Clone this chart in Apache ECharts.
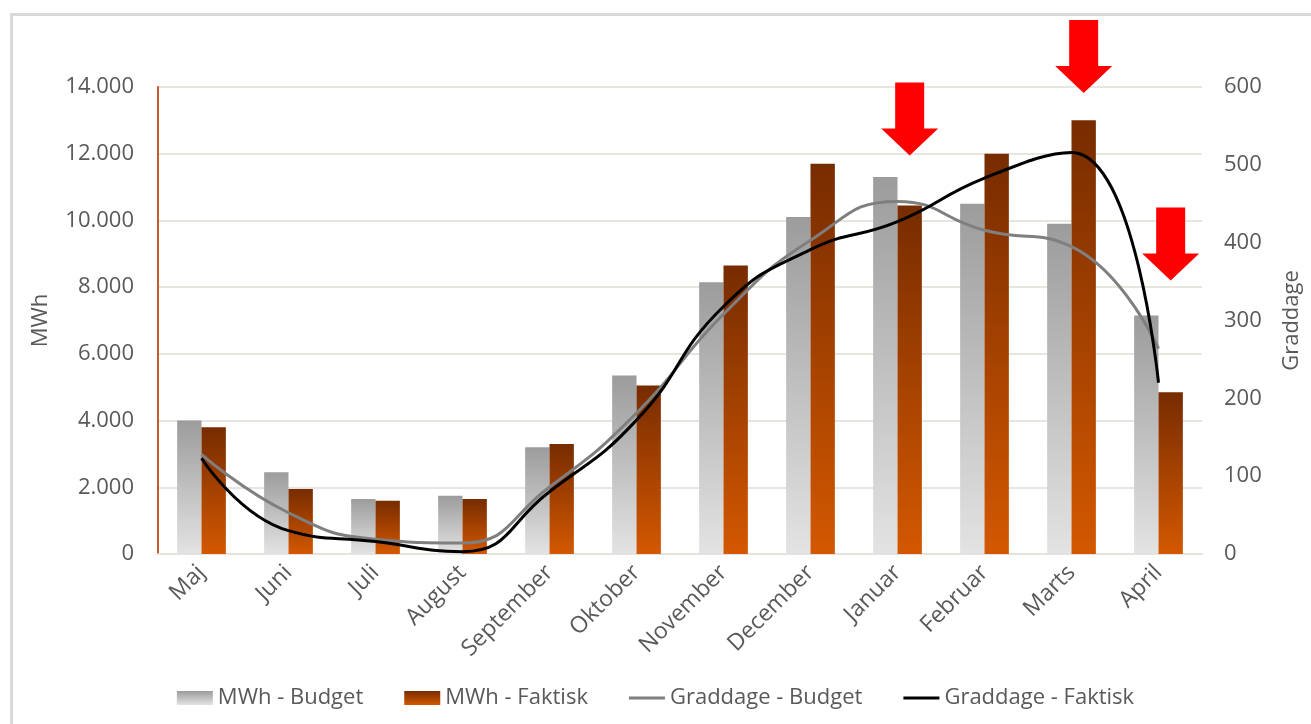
<!DOCTYPE html>
<html>
<head>
<meta charset="utf-8">
<script src="https://cdn.jsdelivr.net/npm/echarts@6/dist/echarts.min.js"></script>
<style>
  html, body { margin: 0; padding: 0; background: #fff; overflow: hidden; }
  .frame {
    position: absolute; left: 10px; top: 13px;
    width: 1400px; height: 800px;
    border: 3px solid #d9d9d9;
  }
  #chart { position: absolute; left: 0; top: 0; width: 1311px; height: 724px; }
</style>
</head>
<body>
<div class="frame"></div>
<div id="chart"></div>
<script>
// data
const months = ['Maj', 'Juni', 'Juli', 'August', 'September', 'Oktober', 'November', 'December', 'Januar', 'Februar', 'Marts', 'April']
const mwhBudget = [4000, 2450, 1650, 1750, 3200, 5350, 8150, 10100, 11300, 10500, 9900, 7150]
const mwhFaktisk = [3800, 1950, 1600, 1650, 3300, 5050, 8650, 11700, 10450, 12000, 13000, 4850]
const graddageBudget = [128, 53, 19, 14, 86, 181, 308, 403, 453, 416, 395, 264]
const graddageFaktisk = [123, 30, 16, 3, 80, 172, 318, 391, 427, 483, 516, 220]

// red arrows: which month and the MWh value the arrow tip points at
const arrowMonths = ['Januar', 'Marts', 'April']
const arrowTips = [11950, 13820, 8200]

const chart = echarts.init(document.getElementById('chart'))

const fmtDk = v => String(v).replace(/\B(?=(\d{3})+(?!\d))/g, '.')

const greyGrad = new echarts.graphic.LinearGradient(0, 0, 0, 1, [
  { offset: 0, color: '#9c9c9c' },
  { offset: 1, color: '#e3e3e3' }
])
const brownGrad = new echarts.graphic.LinearGradient(0, 0, 0, 1, [
  { offset: 0, color: '#772c00' },
  { offset: 1, color: '#d35800' }
])

const arrowPath = 'path://M14,0 L43,0 L43,46 L57,46 L28.5,73 L0,46 L14,46 Z'
const lineIcon = 'path://M0,0 L36,0 L36,3 L0,3 Z'

const labelColor = '#595959'
const font = '"Open Sans", sans-serif'

const option = {
  animation: false,
  backgroundColor: 'transparent',
  grid: { left: 158, right: 108, top: 87, bottom: 170 },
  legend: {
    bottom: 10,
    left: 'center',
    itemGap: 41,
    itemWidth: 36,
    itemHeight: 14,
    textStyle: { color: labelColor, fontSize: 22, fontFamily: font },
    data: [
      { name: 'MWh - Budget', icon: 'rect' },
      { name: 'MWh - Faktisk', icon: 'rect' },
      { name: 'Graddage - Budget', icon: lineIcon },
      { name: 'Graddage - Faktisk', icon: lineIcon }
    ]
  },
  xAxis: {
    type: 'category',
    data: months,
    axisTick: { show: false },
    axisLine: { lineStyle: { color: '#e6e2de', width: 2 } },
    axisLabel: {
      rotate: 45,
      margin: 15,
      color: labelColor,
      fontSize: 23,
      fontFamily: font
    }
  },
  yAxis: [
    {
      type: 'value',
      name: 'MWh',
      nameLocation: 'middle',
      nameRotate: 90,
      nameGap: 106,
      nameTextStyle: { color: labelColor, fontSize: 22, fontFamily: font },
      min: 0,
      max: 14000,
      interval: 2000,
      axisLine: { show: true, lineStyle: { color: '#c55a2a', width: 2 } },
      axisTick: { show: false },
      axisLabel: {
        color: labelColor,
        fontSize: 22,
        fontFamily: font,
        margin: 24,
        formatter: fmtDk
      },
      splitLine: { lineStyle: { color: '#e8e4e0', width: 2 } }
    },
    {
      type: 'value',
      name: 'Graddage',
      nameLocation: 'middle',
      nameRotate: 90,
      nameGap: 79,
      nameTextStyle: { color: labelColor, fontSize: 22, fontFamily: font },
      min: 0,
      max: 600,
      interval: 100,
      axisLine: { show: false },
      axisTick: { show: false },
      axisLabel: { color: labelColor, fontSize: 22, fontFamily: font, margin: 22 },
      splitLine: { show: false }
    }
  ],
  series: [
    {
      name: 'MWh - Budget',
      type: 'bar',
      data: mwhBudget,
      barGap: '0%',
      barCategoryGap: '44%',
      itemStyle: { color: greyGrad }
    },
    {
      name: 'MWh - Faktisk',
      type: 'bar',
      data: mwhFaktisk,
      itemStyle: { color: brownGrad },
      markPoint: {
        symbol: arrowPath,
        symbolSize: [57, 73],
        symbolOffset: [0, '-50%'],
        itemStyle: { color: '#ff0000' },
        label: { show: false },
        data: arrowMonths.map((m, i) => ({ coord: [m, arrowTips[i]] }))
      }
    },
    {
      name: 'Graddage - Budget',
      type: 'line',
      yAxisIndex: 1,
      data: graddageBudget,
      smooth: 0.5,
      symbol: 'none',
      lineStyle: { color: '#7f7f7f', width: 3 },
      itemStyle: { color: '#7f7f7f' }
    },
    {
      name: 'Graddage - Faktisk',
      type: 'line',
      yAxisIndex: 1,
      data: graddageFaktisk,
      smooth: 0.5,
      symbol: 'none',
      lineStyle: { color: '#000000', width: 3 },
      itemStyle: { color: '#000000' }
    }
  ]
}

chart.setOption(option)
</script>
</body>
</html>
